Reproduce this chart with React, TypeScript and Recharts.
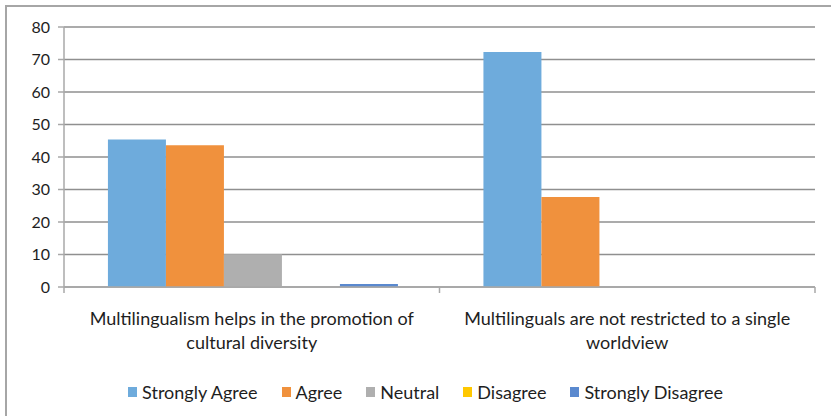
import React from "react";
import { BarChart, Bar, XAxis, YAxis, CartesianGrid, Legend } from "recharts";

// Survey statements (x categories), split into their display lines
const statementLines = [
  ["Multilingualism helps in the promotion of", "cultural diversity"],
  ["Multilinguals are not restricted to a single", "worldview"],
];
const statements = statementLines.map((lines) => lines.join(" "));

// Response shares (%) per statement
const stronglyAgree = [45.4, 72.3];
const agree = [43.6, 27.7];
const neutral = [10.1, 0];
const disagree = [0, 0];
const stronglyDisagree = [0.9, 0];

const yTicks = [0, 10, 20, 30, 40, 50, 60, 70, 80];

const seriesDefs = [
  { key: "Strongly Agree", values: stronglyAgree, color: "#6EABDC" },
  { key: "Agree", values: agree, color: "#F0913D" },
  { key: "Neutral", values: neutral, color: "#AFAFAF" },
  { key: "Disagree", values: disagree, color: "#FFC800" },
  { key: "Strongly Disagree", values: stronglyDisagree, color: "#5A89CF" },
];

const data = statements.map((name, i) => {
  const row: Record<string, string | number> = { name };
  seriesDefs.forEach((s) => {
    row[s.key] = s.values[i];
  });
  return row;
});

const FONT = "Lato, 'Open Sans', sans-serif";
const AXIS = "#A8A8A8";
const TEXT = "#1E1E1E";

// Category label on two lines, with axis tick marks on the category boundaries
const CategoryTick = (props: any) => {
  const { x, y, payload, index, visibleTicksCount, width } = props;
  const count = visibleTicksCount ?? 2;
  const half =
    payload && payload.offset
      ? payload.offset
      : typeof width === "number" && width > 0
      ? width / count / 2
      : 187.75;
  const top = y - 8;
  const idx = statements.indexOf(payload.value);
  const lines = idx >= 0 ? statementLines[idx] : [String(payload.value)];
  return (
    <g>
      <line x1={x - half} y1={top} x2={x - half} y2={top + 6} stroke={AXIS} strokeWidth={1.5} />
      {index === count - 1 && (
        <line x1={x + half} y1={top} x2={x + half} y2={top + 6} stroke={AXIS} strokeWidth={1.5} />
      )}
      <text x={x} y={top + 38} textAnchor="middle" fontSize={18} fill={TEXT} fontFamily={FONT}>
        {lines.map((ln, i) => (
          <tspan key={i} x={x} dy={i === 0 ? 0 : 24}>
            {ln}
          </tspan>
        ))}
      </text>
    </g>
  );
};

const LegendContent = () => (
  <div
    style={{
      display: "flex",
      justifyContent: "center",
      alignItems: "center",
      gap: 24,
      fontFamily: FONT,
      fontSize: 18,
      color: TEXT,
      height: 35,
      marginLeft: 36,
    }}
  >
    {seriesDefs.map((s) => (
      <div key={s.key} style={{ display: "flex", alignItems: "center" }}>
        <span
          style={{
            display: "inline-block",
            width: 9,
            height: 10,
            background: s.color,
            marginRight: 5,
          }}
        />
        <span>{s.key}</span>
      </div>
    ))}
  </div>
);

export default function App() {
  return (
    <div
      style={{
        position: "fixed",
        left: 0,
        top: 0,
        width: 831,
        height: 416,
        overflow: "hidden",
        background: "#fff",
        fontFamily: FONT,
      }}
    >
      <div
        style={{
          position: "absolute",
          left: 5,
          top: 5,
          width: 900,
          height: 500,
          border: "2px solid #A6A6A6",
          boxSizing: "border-box",
        }}
      />
      <div style={{ position: "absolute", left: 0, top: 0 }}>
        <BarChart
          width={831}
          height={416}
          data={data}
          margin={{ top: 27, right: 16, bottom: 7, left: 0 }}
          barCategoryGap="11.7%"
          barGap={0}
        >
          <CartesianGrid vertical={false} stroke="#8F8F8F" strokeWidth={1.5} />
          <XAxis
            dataKey="name"
            tick={<CategoryTick />}
            tickLine={false}
            axisLine={{ stroke: AXIS, strokeWidth: 1.5 }}
            height={87}
            interval={0}
          />
          <YAxis
            domain={[0, 80]}
            ticks={yTicks}
            width={64}
            tickSize={6}
            tickMargin={8}
            axisLine={{ stroke: AXIS, strokeWidth: 1.5 }}
            tickLine={{ stroke: AXIS, strokeWidth: 1.5 }}
            tick={{ fontSize: 16, fill: TEXT, fontFamily: FONT }}
          />
          <Legend verticalAlign="bottom" height={35} content={<LegendContent />} />
          {seriesDefs.map((s) => (
            <Bar key={s.key} dataKey={s.key} fill={s.color} isAnimationActive={false} />
          ))}
        </BarChart>
      </div>
    </div>
  );
}
